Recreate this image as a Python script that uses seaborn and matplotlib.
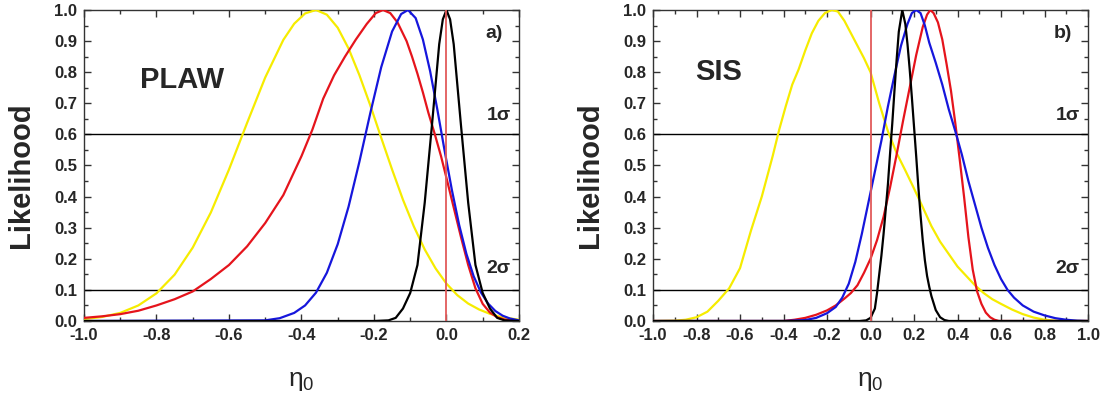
import matplotlib
matplotlib.use("Agg")
import matplotlib.pyplot as plt
from matplotlib.ticker import MultipleLocator, FormatStrFormatter
import pandas as pd
import seaborn as sns

# ---------------- PLAW panel: likelihood curves ----------------
plaw_yellow_x = [-1.0, -0.95, -0.9, -0.85, -0.8, -0.75, -0.7, -0.65, -0.6, -0.55, -0.5, -0.45,
                 -0.42, -0.39, -0.36, -0.33, -0.30, -0.27, -0.24, -0.21, -0.18, -0.15, -0.12,
                 -0.09, -0.06, -0.03, 0.0, 0.03, 0.06, 0.09, 0.12, 0.15, 0.2]
plaw_yellow_y = [0.006, 0.013, 0.026, 0.050, 0.089, 0.149, 0.236, 0.349, 0.487, 0.637, 0.783, 0.904,
                 0.956, 0.989, 1.0, 0.985, 0.943, 0.876, 0.790, 0.693, 0.589, 0.487, 0.39,
                 0.304, 0.230, 0.169, 0.12, 0.083, 0.056, 0.037, 0.023, 0.013, 0.004]

plaw_red_x = [-1.0, -0.95, -0.9, -0.85, -0.8, -0.75, -0.7, -0.65, -0.6, -0.55, -0.5, -0.45, -0.4,
              -0.37, -0.34, -0.31, -0.28, -0.25, -0.22, -0.195, -0.175, -0.155, -0.135, -0.11,
              -0.095, -0.08, -0.065, -0.05, -0.032, -0.015, 0.0, 0.02, 0.04, 0.06, 0.08, 0.10,
              0.12, 0.14, 0.16, 0.18, 0.2]
plaw_red_y = [0.010, 0.015, 0.022, 0.033, 0.050, 0.070, 0.095, 0.135, 0.180, 0.240, 0.315, 0.405, 0.530,
              0.615, 0.715, 0.790, 0.850, 0.905, 0.955, 0.990, 1.0, 0.990, 0.960, 0.900,
              0.850, 0.795, 0.735, 0.670, 0.600, 0.530, 0.460, 0.365, 0.270, 0.180, 0.105, 0.055,
              0.027, 0.012, 0.005, 0.001, 0.0]

plaw_blue_x = [-1.0, -0.5, -0.46, -0.42, -0.39, -0.36, -0.33, -0.30, -0.27, -0.24, -0.21, -0.18,
               -0.15, -0.125, -0.106, -0.085, -0.065, -0.045, -0.025, -0.005, 0.015, 0.035, 0.055,
               0.075, 0.095, 0.115, 0.135, 0.155, 0.175, 0.2]
plaw_blue_y = [0.0, 0.002, 0.009, 0.026, 0.050, 0.091, 0.155, 0.247, 0.368, 0.513, 0.669, 0.816,
               0.931, 0.987, 1.0, 0.974, 0.905, 0.803, 0.679, 0.547, 0.421, 0.309, 0.216,
               0.144, 0.092, 0.056, 0.032, 0.017, 0.008, 0.002]

plaw_black_x = [-1.0, -0.2, -0.16, -0.14, -0.12, -0.10, -0.08, -0.06, -0.04, -0.02, -0.01, 0.0,
                0.01, 0.02, 0.04, 0.06, 0.08, 0.10, 0.12, 0.14, 0.16, 0.2]
plaw_black_y = [0.0, 0.0, 0.002, 0.01, 0.04, 0.09, 0.18, 0.38, 0.63, 0.89, 0.97, 1.0,
                0.97, 0.89, 0.63, 0.38, 0.18, 0.09, 0.04, 0.01, 0.002, 0.0]

# ---------------- SIS panel: likelihood curves ----------------
sis_yellow_x = [-1.0, -0.9, -0.85, -0.8, -0.75, -0.7, -0.65, -0.6, -0.55, -0.5, -0.45, -0.42, -0.39,
                -0.36, -0.33, -0.30, -0.27, -0.24, -0.21, -0.178, -0.15, -0.12, -0.09, -0.06,
                -0.03, 0.0, 0.04, 0.08, 0.12, 0.16, 0.20, 0.24, 0.28, 0.32, 0.36, 0.40, 0.44,
                0.48, 0.52, 0.56, 0.6, 0.65, 0.7, 0.75, 0.8, 0.85, 0.9, 1.0]
sis_yellow_y = [0.0, 0.001, 0.004, 0.012, 0.03, 0.065, 0.105, 0.17, 0.29, 0.40, 0.53, 0.615, 0.69,
                0.76, 0.81, 0.87, 0.925, 0.965, 0.99, 1.0, 0.995, 0.965, 0.925, 0.885,
                0.845, 0.80, 0.70, 0.61, 0.54, 0.484, 0.426, 0.366, 0.305, 0.255, 0.215, 0.175, 0.145,
                0.115, 0.09, 0.07, 0.055, 0.037, 0.022, 0.011, 0.004, 0.001, 0.0, 0.0]

sis_red_x = [-1.0, -0.4, -0.35, -0.3, -0.25, -0.20, -0.16, -0.12, -0.09, -0.06, -0.03, 0.0, 0.03,
             0.06, 0.09, 0.12, 0.15, 0.18, 0.21, 0.24, 0.26, 0.275, 0.29, 0.31, 0.33, 0.35, 0.37,
             0.39, 0.41, 0.43, 0.45, 0.47, 0.49, 0.51, 0.53, 0.55, 0.57, 0.59, 1.0]
sis_red_y = [0.0, 0.0, 0.004, 0.01, 0.02, 0.034, 0.05, 0.072, 0.09, 0.115, 0.155, 0.20, 0.26,
             0.335, 0.43, 0.535, 0.645, 0.75, 0.855, 0.945, 0.985, 1.0, 0.99, 0.96, 0.905, 0.825, 0.74,
             0.635, 0.52, 0.40, 0.27, 0.165, 0.095, 0.055, 0.027, 0.012, 0.004, 0.0, 0.0]

sis_blue_x = [-1.0, -0.4, -0.3, -0.25, -0.2, -0.16, -0.13, -0.10, -0.07, -0.04, -0.01, 0.02, 0.05,
              0.08, 0.11, 0.14, 0.17, 0.19, 0.21, 0.23, 0.25, 0.27, 0.30, 0.33, 0.36, 0.39, 0.42,
              0.45, 0.48, 0.51, 0.54, 0.57, 0.60, 0.63, 0.66, 0.70, 0.75, 0.80, 0.85, 0.90, 0.95, 1.0]
sis_blue_y = [0.0, 0.0, 0.003, 0.01, 0.025, 0.045, 0.075, 0.12, 0.19, 0.28, 0.38, 0.48, 0.58,
              0.69, 0.79, 0.885, 0.955, 0.99, 1.0, 0.99, 0.95, 0.895, 0.83, 0.76, 0.68, 0.61, 0.535,
              0.45, 0.375, 0.30, 0.235, 0.18, 0.135, 0.10, 0.075, 0.05, 0.03, 0.018, 0.009, 0.004, 0.001, 0.0]

sis_black_x = [-1.0, -0.05, -0.02, 0.0, 0.02, 0.03, 0.04, 0.05, 0.06, 0.07, 0.08, 0.09, 0.10, 0.11,
               0.12, 0.13, 0.146, 0.16, 0.17, 0.18, 0.19, 0.20, 0.21, 0.22, 0.23, 0.24, 0.25, 0.26,
               0.27, 0.28, 0.30, 0.32, 0.34, 0.36, 1.0]
sis_black_y = [0.0, 0.0, 0.002, 0.01, 0.04, 0.09, 0.15, 0.21, 0.28, 0.36, 0.44, 0.54, 0.635, 0.74,
               0.84, 0.93, 1.0, 0.955, 0.89, 0.81, 0.72, 0.625, 0.53, 0.43, 0.34, 0.26, 0.195, 0.145,
               0.11, 0.08, 0.035, 0.012, 0.003, 0.0, 0.0]

# Confidence levels and annotations
sigma_levels = [0.6, 0.1]
sigma_labels = ["1\u03c3", "2\u03c3"]
panel_names = ["PLAW", "SIS"]
panel_tags = ["a)", "b)"]
reference_eta = 0.0

YELLOW = "#f6ec00"
RED = "#e5141c"
BLUE = "#1616dc"
BLACK = "#000000"
VLINE = "#e25a5a"

sns.set_theme(style="white")
plt.rcParams["font.family"] = ["Liberation Sans", "DejaVu Sans"]
plt.rcParams["mathtext.fontset"] = "custom"
plt.rcParams["mathtext.rm"] = "Liberation Sans"
plt.rcParams["mathtext.it"] = "Liberation Sans"

fig = plt.figure(figsize=(11.11, 3.98), dpi=100)
ax_a = fig.add_axes([0.0756, 0.1935, 0.3915, 0.7814])
ax_b = fig.add_axes([0.5878, 0.1935, 0.3915, 0.7814])

panels = [
    (ax_a, [(plaw_yellow_x, plaw_yellow_y, YELLOW), (plaw_red_x, plaw_red_y, RED),
            (plaw_blue_x, plaw_blue_y, BLUE), (plaw_black_x, plaw_black_y, BLACK)],
     (-1.0, 0.2)),
    (ax_b, [(sis_yellow_x, sis_yellow_y, YELLOW), (sis_red_x, sis_red_y, RED),
            (sis_blue_x, sis_blue_y, BLUE), (sis_black_x, sis_black_y, BLACK)],
     (-1.0, 1.0)),
]

for i, (ax, curves, xlim) in enumerate(panels):
    for lvl in sigma_levels:
        ax.axhline(lvl, color="black", lw=1.0, zorder=1)
    for cx, cy, col in curves:
        df = pd.DataFrame({"eta": cx, "L": cy})
        sns.lineplot(data=df, x="eta", y="L", color=col, lw=1.6, ax=ax,
                     estimator=None, sort=False, zorder=3)
    ax.plot([reference_eta, reference_eta], [0, 1], color=VLINE, lw=1.3, zorder=4)

    ax.set_xlim(*xlim)
    ax.set_ylim(0, 1.0)
    ax.xaxis.set_major_locator(MultipleLocator(0.2))
    ax.xaxis.set_minor_locator(MultipleLocator(0.1))
    ax.yaxis.set_major_locator(MultipleLocator(0.1))
    ax.yaxis.set_minor_locator(MultipleLocator(0.05))
    ax.tick_params(which="both", direction="in", top=True, right=True,
                   bottom=True, left=True, color="#333333", width=1.0)
    ax.tick_params(which="major", length=5, labelsize=12, pad=5)
    ax.tick_params(which="minor", length=3)
    ax.xaxis.set_major_formatter(FormatStrFormatter("%.1f"))
    ax.yaxis.set_major_formatter(FormatStrFormatter("%.1f"))
    for lab in ax.get_xticklabels() + ax.get_yticklabels():
        lab.set_fontweight("bold")
    for sp in ax.spines.values():
        sp.set_color("#333333")
        sp.set_linewidth(1.0)

    ax.set_xlabel(r"$\eta_0$", fontsize=19, labelpad=19)
    ax.set_ylabel("Likelihood", fontsize=21, fontweight="bold")
    ax.yaxis.set_label_coords(-0.112, 0.47)

    ax.text(0.963, 0.926, panel_tags[i], transform=ax.transAxes, ha="right", va="center",
            fontsize=14, fontweight="bold")
    ax.text(0.982, 0.662, sigma_labels[0], transform=ax.transAxes, ha="right", va="center",
            fontsize=14, fontweight="bold")
    ax.text(0.980, 0.170, sigma_labels[1], transform=ax.transAxes, ha="right", va="center",
            fontsize=14, fontweight="bold")
    name_x = 0.225 if i == 0 else 0.15
    name_y = 0.775 if i == 0 else 0.80
    ax.text(name_x, name_y, panel_names[i], transform=ax.transAxes, ha="center", va="center",
            fontsize=21, fontweight="bold")

fig.savefig("out.png", dpi=100)
